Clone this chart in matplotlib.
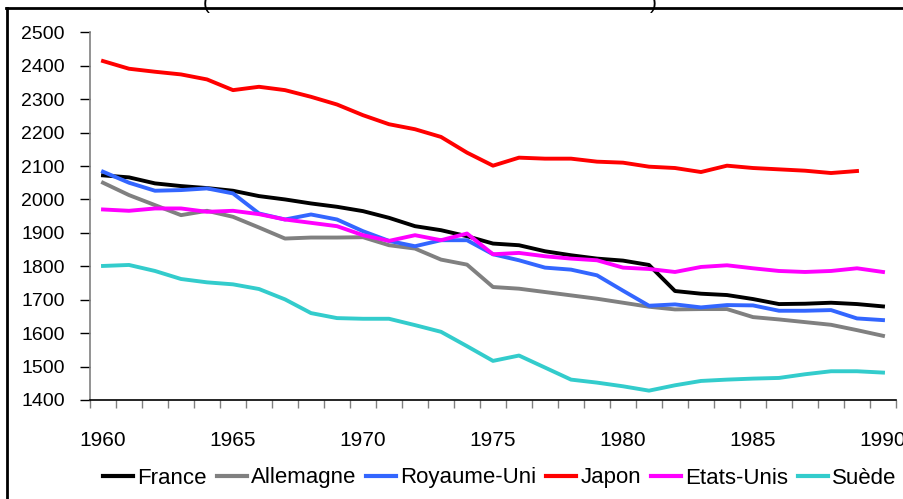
import matplotlib
matplotlib.use("Agg")
import matplotlib.pyplot as plt
from matplotlib.lines import Line2D
import numpy as np

plt.rcParams['font.family'] = ['Liberation Sans', 'DejaVu Sans']

years = list(range(1960, 1991))

france = [2072, 2066, 2048, 2040, 2034, 2026, 2010, 2000, 1988, 1978, 1965,
          1945, 1920, 1908, 1890, 1868, 1863, 1845, 1833, 1823, 1817,
          1804, 1726, 1718, 1714, 1702, 1687, 1688, 1691, 1687, 1680]
allemagne = [2050, 2013, 1983, 1953, 1966, 1948, 1916, 1883, 1886, 1886, 1887,
             1863, 1853, 1820, 1805, 1738, 1733, 1723, 1713, 1703, 1691,
             1679, 1671, 1672, 1672, 1648, 1641, 1633, 1625, 1609, 1592]
royaume_uni = [2083, 2050, 2026, 2028, 2033, 2018, 1958, 1940, 1955, 1940, 1905,
               1876, 1860, 1878, 1878, 1836, 1818, 1796, 1790, 1773, 1727,
               1682, 1686, 1677, 1684, 1683, 1667, 1667, 1669, 1644, 1639]
japon = [2414, 2391, 2382, 2374, 2359, 2327, 2337, 2327, 2307, 2284, 2252,
         2225, 2210, 2187, 2140, 2101, 2125, 2122, 2122, 2113, 2110,
         2098, 2094, 2082, 2101, 2094, 2090, 2086, 2079, 2085, None]
etats_unis = [1970, 1966, 1973, 1973, 1963, 1966, 1956, 1940, 1930, 1920, 1893,
              1876, 1893, 1878, 1898, 1836, 1840, 1830, 1823, 1818, 1796,
              1792, 1783, 1798, 1803, 1794, 1786, 1783, 1786, 1794, 1783]
suede = [1801, 1804, 1786, 1762, 1752, 1746, 1732, 1701, 1660, 1645, 1643,
         1643, 1624, 1604, 1561, 1517, 1533, 1497, 1461, 1452, 1441,
         1428, 1444, 1457, 1461, 1464, 1466, 1477, 1486, 1486, 1482]

series = [("France", france, "#000000"),
          ("Allemagne", allemagne, "#808080"),
          ("Royaume-Uni", royaume_uni, "#3366FF"),
          ("Japon", japon, "#FF0000"),
          ("Etats-Unis", etats_unis, "#FF00FF"),
          ("Suède", suede, "#33CCCC")]

fig = plt.figure(figsize=(9.04, 4.99), dpi=100)
ax = fig.add_axes([90 / 904, 99 / 499, 806 / 904, 367.7 / 499])

x = np.arange(len(years))
for name, vals, col in series:
    y = np.array([np.nan if v is None else v for v in vals], dtype=float)
    ax.plot(x, y, color=col, lw=2.8, label=name, solid_joinstyle='round')

ax.set_xlim(-0.5, len(years) - 0.5)
ax.set_ylim(1400, 2500)
ax.set_yticks(range(1400, 2501, 100))
ax.tick_params(axis='y', direction='out', length=7, width=1, color='#000000',
               labelsize=14, pad=11)

lab_idx = [i for i, yr in enumerate(years) if yr % 5 == 0]
ax.set_xticks(lab_idx)
ax.set_xticklabels([str(years[i]) for i in lab_idx])
ax.set_xticks(np.arange(-0.5, len(years), 1.0), minor=True)
ax.tick_params(axis='x', which='major', length=0, labelsize=15, pad=22)
ax.tick_params(axis='x', which='minor', direction='out', length=6, width=1,
               color='#808080')

for s in ['top', 'right']:
    ax.spines[s].set_visible(False)
ax.spines['left'].set_color('#808080')
ax.spines['left'].set_linewidth(1.2)
ax.spines['bottom'].set_color('#000000')
ax.spines['bottom'].set_linewidth(1.2)

leg = ax.legend(loc='center', bbox_to_anchor=(500 / 904, 21 / 499),
                bbox_transform=fig.transFigure,
                ncol=6, frameon=False, fontsize=16, handlelength=1.35,
                handletextpad=0.18, columnspacing=0.45, borderpad=0)
for h in leg.get_lines():
    h.set_linewidth(3)

# frame around chart (cropped: only top and left visible)
fig.add_artist(Line2D([7 / 904, 7 / 904], [0, 1 - 8 / 499], transform=fig.transFigure,
                      color='black', lw=2))
fig.add_artist(Line2D([6 / 904, 1], [1 - 8 / 499, 1 - 8 / 499], transform=fig.transFigure,
                      color='black', lw=2))

# title cut off at the top edge
fig.text(203 / 904, 1 + 6 / 499, "(", ha='left', va='top', fontsize=15)
fig.text(650 / 904, 1 + 6 / 499, ")", ha='left', va='top', fontsize=15)

fig.savefig("out.png", dpi=100)
